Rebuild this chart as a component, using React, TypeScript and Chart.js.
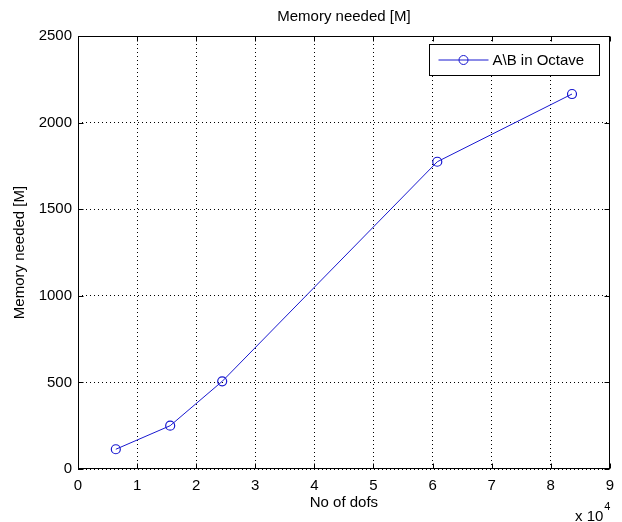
import React, { useEffect, useRef } from "react";
import { Chart, registerables } from "chart.js";

Chart.register(...registerables);

const dofs = [6400, 15600, 24400, 60800, 83600];
const memory = [114, 250, 506, 1774, 2165];
const seriesLabel = "A\\B in Octave";
const chartTitle = "Memory needed [M]";
const xTitle = "No of dofs";
const yTitle = "Memory needed [M]";
const xTickLabels = ["0", "1", "2", "3", "4", "5", "6", "7", "8", "9"];
const yTickLabels = ["0", "500", "1000", "1500", "2000", "2500"];
const xExponentBase = "x 10";
const xExponent = "4";

const FONT = "'Liberation Sans', Arial, Helvetica, sans-serif";
const BLUE = "#1818d0";

const matlabBox = {
  id: "matlabBox",
  afterDraw(chart: any) {
    const { ctx, chartArea } = chart;
    const { left, right, top, bottom } = chartArea;
    const xs = chart.scales.x;
    const ys = chart.scales.y;
    ctx.save();
    ctx.strokeStyle = "#000";
    ctx.lineWidth = 1;
    ctx.setLineDash([]);
    const L = Math.round(left) + 0.5;
    const R = Math.round(right) - 0.5;
    const T = Math.round(top) + 0.5;
    const B = Math.round(bottom) - 0.5;
    ctx.strokeRect(L, T, R - L, B - T);
    const tl = 5;
    ctx.beginPath();
    xs.ticks.forEach((t: any) => {
      const px = Math.round(xs.getPixelForValue(t.value)) + 0.5;
      ctx.moveTo(px, B);
      ctx.lineTo(px, B - tl);
      ctx.moveTo(px, T);
      ctx.lineTo(px, T + tl);
    });
    ys.ticks.forEach((t: any) => {
      const py = Math.round(ys.getPixelForValue(t.value)) + 0.5;
      ctx.moveTo(L, py);
      ctx.lineTo(L + tl, py);
      ctx.moveTo(R, py);
      ctx.lineTo(R - tl, py);
    });
    ctx.stroke();

    // title centred over the axes
    ctx.fillStyle = "#000";
    ctx.font = `15px ${FONT}`;
    ctx.textAlign = "center";
    ctx.textBaseline = "middle";
    ctx.fillText(chartTitle, (left + right) / 2, 17);

    // legend
    const lw = 170;
    const lh = 31;
    const lx = Math.round(right) - 11 - lw + 0.5;
    const ly = Math.round(top) + 8 + 0.5;
    ctx.fillStyle = "#fff";
    ctx.fillRect(lx, ly, lw, lh);
    ctx.strokeStyle = "#000";
    ctx.strokeRect(lx, ly, lw, lh);
    const cy = ly + lh / 2;
    const ds = chart.data.datasets[0];
    ctx.strokeStyle = ds.borderColor;
    ctx.beginPath();
    ctx.moveTo(lx + 9, cy);
    ctx.lineTo(lx + 59, cy);
    ctx.stroke();
    ctx.beginPath();
    ctx.arc(lx + 34, cy, 4.5, 0, Math.PI * 2);
    ctx.stroke();
    ctx.fillStyle = "#000";
    ctx.font = `15px ${FONT}`;
    ctx.textBaseline = "middle";
    ctx.textAlign = "left";
    ctx.fillText(ds.label, lx + 63, cy + 0.5);

    // exponent label
    ctx.font = `15px ${FONT}`;
    ctx.textBaseline = "alphabetic";
    ctx.textAlign = "left";
    const ex = Math.round(right) - 35;
    ctx.fillText(xExponentBase, ex, 521);
    const w = ctx.measureText(xExponentBase).width;
    ctx.font = `11px ${FONT}`;
    ctx.fillText(xExponent, ex + w + 1, 510);
    ctx.restore();
  },
};

export default function App() {
  const ref = useRef<HTMLCanvasElement | null>(null);
  useEffect(() => {
    document.body.style.margin = "0";
    const canvas = ref.current;
    if (!canvas) return;
    Chart.defaults.font.family = FONT;
    Chart.defaults.color = "#000";
    const chart = new Chart(canvas, {
      type: "scatter",
      data: {
        datasets: [
          {
            label: seriesLabel,
            data: dofs.map((x, i) => ({ x, y: memory[i] })),
            showLine: true,
            borderColor: BLUE,
            backgroundColor: "rgba(0,0,0,0)",
            borderWidth: 1,
            pointRadius: 4.5,
            pointBorderWidth: 1.2,
            pointBorderColor: BLUE,
            pointBackgroundColor: "rgba(0,0,0,0)",
            tension: 0,
          },
        ],
      },
      options: {
        animation: false,
        responsive: false,
        maintainAspectRatio: false,
        layout: { padding: { left: 0, right: 9, top: 36, bottom: 0 } },
        plugins: {
          legend: { display: false },
          tooltip: { enabled: false },
          title: { display: false },
        },
        scales: {
          x: {
            type: "linear",
            min: 0,
            max: 90000,
            afterFit: (s: any) => {
              s.height = 53;
            },
            ticks: {
              stepSize: 10000,
              padding: 8,
              font: { size: 15 },
              color: "#000",
              maxRotation: 0,
              callback: (v: any) => xTickLabels[Math.round(Number(v) / 10000)] ?? "",
            },
            grid: {
              color: "#000",
              lineWidth: 1,
              drawTicks: false,
            },
            border: { display: false, dash: [1, 3] },
            title: {
              display: true,
              text: xTitle,
              color: "#000",
              font: { size: 15 },
              padding: { top: 0, bottom: 10 },
            },
          },
          y: {
            type: "linear",
            min: 0,
            max: 2500,
            afterFit: (s: any) => {
              s.width = 78;
            },
            ticks: {
              stepSize: 500,
              padding: 6,
              font: { size: 15 },
              color: "#000",
              callback: (v: any) => yTickLabels[Math.round(Number(v) / 500)] ?? "",
            },
            grid: {
              color: "#000",
              lineWidth: 1,
              drawTicks: false,
            },
            border: { display: false, dash: [1, 3] },
            title: {
              display: true,
              text: yTitle,
              color: "#000",
              font: { size: 15 },
              padding: { top: 11, bottom: 0 },
            },
          },
        },
      },
      plugins: [matlabBox],
    } as any);
    return () => chart.destroy();
  }, []);
  return (
    <div style={{ width: 622, height: 522, background: "#fff" }}>
      <canvas ref={ref} width={622} height={522} style={{ display: "block" }} />
    </div>
  );
}
